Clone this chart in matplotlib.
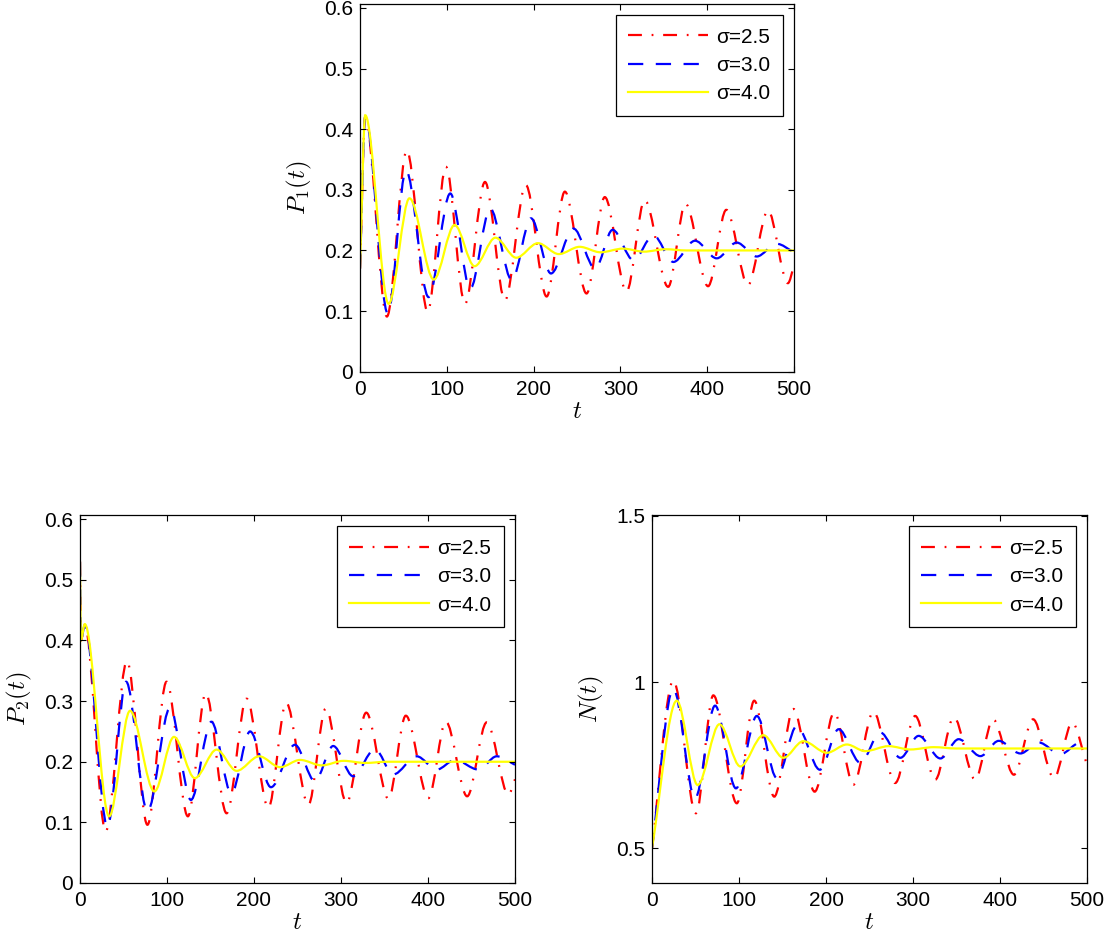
import numpy as np
import matplotlib
matplotlib.use("Agg")
from matplotlib import pyplot as plt
from matplotlib.path import Path
from matplotlib.patches import PathPatch
from matplotlib.lines import Line2D

plt.rcParams['font.family'] = ['Liberation Sans', 'DejaVu Sans']
plt.rcParams['mathtext.fontset'] = 'cm'
plt.rcParams['lines.scale_dashes'] = False

# values: turning points of each curve (t, value)
labels = ['σ=2.5', 'σ=3.0', 'σ=4.0']

p1_t_25 = [0, 6, 31, 54, 78, 99, 121, 144, 167, 191, 215, 236, 261, 282, 307, 328, 355, 375, 401, 422, 447, 470, 493, 500]
p1_v_25 = [0.17, 0.42, 0.091, 0.365, 0.099, 0.338, 0.112, 0.313, 0.118, 0.308, 0.124, 0.297, 0.129, 0.288,
           0.132, 0.283, 0.140, 0.277, 0.141, 0.267, 0.143, 0.266, 0.146, 0.175]
p1_t_30 = [0, 6, 32, 53, 79, 104, 127, 150, 175, 197, 220, 246, 271, 291, 315, 338, 361, 386, 411, 434, 457, 480, 500]
p1_v_30 = [0.17, 0.42, 0.096, 0.332, 0.123, 0.294, 0.137, 0.269, 0.151, 0.253, 0.162, 0.236, 0.170, 0.234,
           0.184, 0.225, 0.181, 0.216, 0.187, 0.213, 0.190, 0.211, 0.197]
p1_t_40 = [0, 6, 33, 57, 85, 109, 132, 156, 180, 205, 229, 253, 277, 303, 327, 352, 376, 500]
p1_v_40 = [0.17, 0.423, 0.112, 0.286, 0.152, 0.242, 0.174, 0.221, 0.188, 0.212, 0.194, 0.206, 0.197, 0.203,
           0.198, 0.202, 0.200, 0.200]

p2_t_25 = [0, 1, 5.5, 29.5, 54, 77.5, 99.5, 124, 144.5, 168.5, 191.5, 216.5, 237, 262.5, 282.5, 306.5, 329,
           354.5, 374.5, 400.5, 420.5, 445, 467.5, 492.5, 500]
p2_v_25 = [0.53, 0.40, 0.425, 0.085, 0.366, 0.096, 0.332, 0.110, 0.313, 0.115, 0.304, 0.124, 0.297, 0.129,
           0.288, 0.132, 0.281, 0.139, 0.276, 0.140, 0.266, 0.143, 0.265, 0.146, 0.171]
p2_t_30 = [0, 1, 5.5, 31.5, 53, 77.5, 103.5, 127.5, 151, 174, 195.5, 219.5, 247, 270, 291, 314, 339, 360, 387,
           410, 431, 458, 479, 500]
p2_v_30 = [0.53, 0.40, 0.425, 0.093, 0.332, 0.118, 0.289, 0.137, 0.266, 0.148, 0.250, 0.158, 0.228, 0.168,
           0.226, 0.176, 0.221, 0.179, 0.209, 0.187, 0.203, 0.187, 0.209, 0.195]
p2_t_40 = [0, 1, 5.5, 33.5, 57.5, 85.5, 108, 132, 157, 180, 206, 230, 253, 278, 303, 328, 353, 500]
p2_v_40 = [0.53, 0.40, 0.427, 0.110, 0.284, 0.151, 0.241, 0.173, 0.220, 0.185, 0.209, 0.191, 0.203, 0.194,
           0.2015, 0.198, 0.200, 0.200]

n_t_25 = [0, 24.5, 50.5, 70.5, 97.5, 117.5, 140.5, 162.5, 187, 209.5, 231.5, 254.5, 279.5, 302.5, 325.5, 347,
          371.5, 392, 416, 438, 462, 483, 500]
n_v_25 = [0.50, 1.005, 0.605, 0.96, 0.635, 0.944, 0.655, 0.919, 0.670, 0.909, 0.691, 0.911, 0.696, 0.898,
          0.706, 0.894, 0.706, 0.888, 0.721, 0.888, 0.711, 0.878, 0.75]
n_t_30 = [0, 24.5, 49.5, 72.5, 96.5, 120.5, 143.5, 166.5, 193, 214.5, 239.5, 262.5, 285.5, 306.5, 331.5, 352.5,
          377.5, 398.5, 423.5, 444.5, 469.5, 492.5, 500]
n_v_30 = [0.50, 0.98, 0.65, 0.929, 0.68, 0.898, 0.711, 0.868, 0.736, 0.858, 0.757, 0.848, 0.772, 0.838,
          0.770, 0.828, 0.777, 0.823, 0.785, 0.818, 0.783, 0.818, 0.812]
n_t_40 = [0, 28.5, 52.5, 77.5, 101.5, 128, 151, 174, 201, 224, 245, 272, 297, 324, 350, 500]
n_v_40 = [0.50, 0.944, 0.69, 0.873, 0.746, 0.84, 0.772, 0.822, 0.787, 0.812, 0.792, 0.807, 0.797, 0.804,
          0.80, 0.80]

x_ticks = [0, 100, 200, 300, 400, 500]
p_ticks = [0, 0.1, 0.2, 0.3, 0.4, 0.5, 0.6]
p_ticklabels = ['0', '0.1', '0.2', '0.3', '0.4', '0.5', '0.6']
n_ticks = [0.5, 1, 1.5]
n_ticklabels = ['0.5', '1', '1.5']

styles = [dict(color='#ff0000', ls=(0, (10, 7, 1.3, 7))),
          dict(color='#0000ff', ls=(0, (11, 9))),
          dict(color='#ffff00', ls='-')]
LW = 1.6
FS = 15


def smooth_path(t, y):
    # cubic bezier through the read points, flat at the turning points
    t = np.asarray(t, float)
    y = np.asarray(y, float)
    h = np.diff(t)
    d = np.diff(y) / h
    m = np.zeros_like(y)
    m[0], m[-1] = d[0], d[-1]
    for i in range(1, len(y) - 1):
        if d[i - 1] * d[i] > 0:
            m[i] = 2 / (1 / d[i - 1] + 1 / d[i])
    verts = [(t[0], y[0])]
    for i in range(len(h)):
        verts += [(t[i] + h[i] / 3, y[i] + m[i] * h[i] / 3),
                  (t[i + 1] - h[i] / 3, y[i + 1] - m[i + 1] * h[i] / 3),
                  (t[i + 1], y[i + 1])]
    codes = [Path.MOVETO] + [Path.CURVE4] * (3 * len(h))
    return Path(verts, codes)


def panel(rect, series, ylim, yticks, yticklabels, ylabel):
    ax = fig.add_axes(rect)
    for (t, v), st in zip(series, styles):
        ax.add_patch(PathPatch(smooth_path(t, v), fill=False, edgecolor=st['color'],
                               linestyle=st['ls'], linewidth=LW))
    ax.set_xlim(0, 500)
    ax.set_ylim(*ylim)
    ax.set_xticks(x_ticks)
    ax.set_xticklabels([str(x) for x in x_ticks])
    ax.set_yticks(yticks)
    ax.set_yticklabels(yticklabels)
    ax.tick_params(direction='in', length=4, width=0.8, top=True, right=True, labelsize=FS)
    ax.tick_params(axis='x', pad=6)
    ax.tick_params(axis='y', pad=5)
    for s in ax.spines.values():
        s.set_linewidth(0.9)
    ax.set_xlabel('$t$', fontsize=18, labelpad=0)
    ax.set_ylabel(ylabel, fontsize=18, labelpad=7)
    handles = [Line2D([], [], color=st['color'], linestyle=st['ls'], linewidth=LW) for st in styles]
    leg = ax.legend(handles, labels, loc='upper right', fontsize=FS, handlelength=3.8,
                    handletextpad=0.4, labelspacing=0.45, borderpad=0.6, borderaxespad=0.55,
                    fancybox=False, framealpha=1, edgecolor='black')
    leg.get_frame().set_linewidth(0.9)
    return ax


fig = plt.figure(figsize=(11.07, 9.40), dpi=100)
W, H = 1107.0, 940.0

panel([360 / W, 1 - 371.7 / H, 434 / W, 368 / H],
      [(p1_t_25, p1_v_25), (p1_t_30, p1_v_30), (p1_t_40, p1_v_40)],
      (0, 0.607), p_ticks, p_ticklabels, '$P_1(t)$')
panel([80 / W, 1 - 883 / H, 435 / W, 368 / H],
      [(p2_t_25, p2_v_25), (p2_t_30, p2_v_30), (p2_t_40, p2_v_40)],
      (0, 0.607), p_ticks, p_ticklabels, '$P_2(t)$')
panel([652 / W, 1 - 883 / H, 435 / W, 368 / H],
      [(n_t_25, n_v_25), (n_t_30, n_v_30), (n_t_40, n_v_40)],
      (0.395, 1.503), n_ticks, n_ticklabels, '$N(t)$')

fig.savefig('out.png', dpi=100)
